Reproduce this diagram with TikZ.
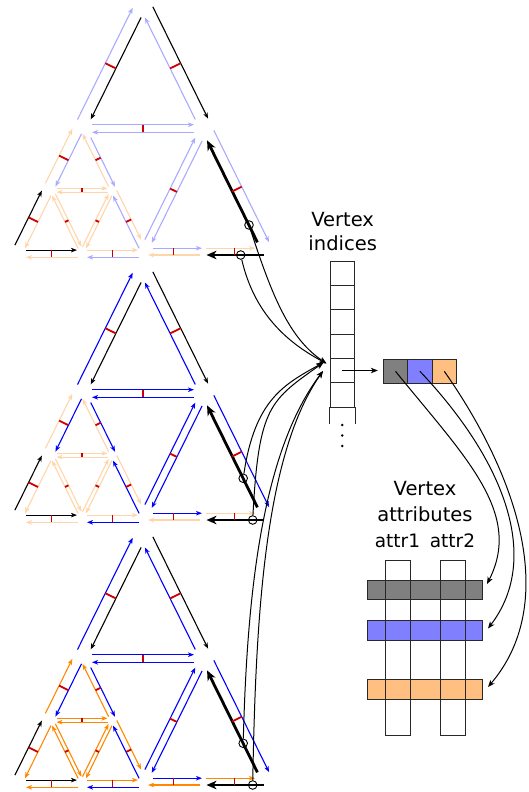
\documentclass[tikz,border=0pt]{standalone}
\usepackage{fontspec}
\setmainfont{DejaVu Sans}
\usetikzlibrary{calc,arrows.meta}
\definecolor{lblue}{RGB}{170,170,255}
\definecolor{dblue}{RGB}{0,0,255}
\definecolor{peach}{RGB}{255,213,170}
\definecolor{orng}{RGB}{255,136,0}
\definecolor{tickred}{RGB}{204,0,0}
\definecolor{tgray}{RGB}{128,128,128}
\definecolor{tblue}{RGB}{128,128,255}
\definecolor{tpeach}{RGB}{255,191,128}
\definecolor{edgegray}{RGB}{40,40,40}
\tikzset{
  he/.style={line width=1.1pt, -{Stealth[length=6pt,width=4.5pt,inset=1.6pt]}},
  hk/.style={he, color=black},
  ht/.style={line width=2.8pt, color=black, -{Stealth[length=10pt,width=8.5pt,inset=3pt]}},
  tickmark/.style={line width=1.8pt, color=tickred},
  ring/.style={circle, draw=black, line width=0.9pt, minimum size=8.6pt, inner sep=0pt},
  link/.style={line width=1pt, color=black, -{Stealth[length=7pt,width=5.5pt,inset=2pt]}},
  cellbox/.style={draw=edgegray, line width=0.9pt, minimum width=24.5pt, minimum height=24.33pt, inner sep=0pt},
  titlefont/.style={font=\fontsize{19.5}{23}\selectfont},
  attrfont/.style={font=\fontsize{18.5}{22}\selectfont},
}
\newcommand\hedge[6]{\draw[#6,shorten <=#4,shorten >=#5] ($(#1)!#3!90:(#2)$) -- ($(#2)!#3!-90:(#1)$);}
\newcommand\etick[4]{\coordinate (tkm) at ($(#1)!0.5!(#2)$); \draw[tickmark] ($(tkm)!#3!90:(#2)$) -- ($(tkm)!#4!-90:(#2)$);}
\newcommand\mkpanel[4]{%
\begin{scope}[yshift=-#2pt]
  \coordinate (#1A) at (143,-5);
  \coordinate (#1L) at (82,-128.5);
  \coordinate (#1R) at (204,-128.5);
  \coordinate (#1U) at (51.5,-190.25);
  \coordinate (#1V) at (112.5,-190.25);
  \coordinate (#1P) at (21,-252);
  \coordinate (#1Q) at (82,-252);
  \coordinate (#1M) at (143,-252);
  \coordinate (#1S) at (204,-252);
  \coordinate (#1B) at (265,-252);
\end{scope}
\tikzset{hx/.style={he,color=#3},hy/.style={he,color=#4}}%
\hedge{#1A}{#1L}{3.8pt}{12pt}{12pt}{hk}
\hedge{#1L}{#1R}{3.8pt}{10pt}{10pt}{hx}
\hedge{#1R}{#1A}{3.8pt}{12pt}{12pt}{hx}
\hedge{#1L}{#1V}{3.8pt}{12pt}{2pt}{hx}
\hedge{#1V}{#1M}{3.8pt}{2pt}{12pt}{hy}
\hedge{#1M}{#1R}{3.8pt}{12pt}{12pt}{hx}
\hedge{#1R}{#1L}{3.8pt}{10pt}{10pt}{hx}
\hedge{#1R}{#1M}{3.8pt}{12pt}{12pt}{hx}
\hedge{#1M}{#1S}{3.8pt}{10pt}{2pt}{hx}
\hedge{#1S}{#1B}{3.8pt}{2pt}{10pt}{hy}
\hedge{#1B}{#1R}{2.5pt}{12pt}{12pt}{ht}
\hedge{#1L}{#1U}{1.9pt}{5pt}{5pt}{hx}
\hedge{#1U}{#1V}{1.9pt}{5pt}{5pt}{hy}
\hedge{#1V}{#1L}{1.9pt}{5pt}{5pt}{hy}
\hedge{#1U}{#1P}{1.9pt}{5pt}{5pt}{hy}
\hedge{#1P}{#1Q}{1.9pt}{5pt}{5pt}{hk}
\hedge{#1Q}{#1U}{1.9pt}{5pt}{5pt}{hy}
\hedge{#1U}{#1Q}{1.9pt}{5pt}{5pt}{hy}
\hedge{#1Q}{#1V}{1.9pt}{5pt}{5pt}{hy}
\hedge{#1V}{#1U}{1.9pt}{5pt}{5pt}{hy}
\hedge{#1V}{#1Q}{1.9pt}{5pt}{5pt}{hy}
\hedge{#1Q}{#1M}{1.9pt}{5pt}{5pt}{hy}
\hedge{#1M}{#1V}{1.9pt}{5pt}{5pt}{hx}
\hedge{#1L}{#1A}{8pt}{6pt}{7pt}{hx}
\hedge{#1A}{#1R}{8pt}{6pt}{7pt}{hk}
\hedge{#1R}{#1B}{8pt}{6pt}{7pt}{hx}
\hedge{#1B}{#1S}{3pt}{1.5pt}{2.5pt}{ht}
\hedge{#1S}{#1M}{3pt}{4pt}{5pt}{hy}
\hedge{#1M}{#1Q}{5.3pt}{4pt}{5pt}{hx}
\hedge{#1Q}{#1P}{5.3pt}{4pt}{5pt}{hy}
\hedge{#1P}{#1U}{8.5pt}{3.5pt}{4.5pt}{hk}
\hedge{#1U}{#1L}{8.5pt}{3.5pt}{4.5pt}{hy}
\etick{#1A}{#1L}{3.8pt}{8pt}
\etick{#1A}{#1R}{8pt}{3.8pt}
\etick{#1L}{#1R}{3.8pt}{3.8pt}
\etick{#1L}{#1U}{1.9pt}{8.5pt}
\etick{#1U}{#1P}{1.9pt}{8.5pt}
\etick{#1L}{#1V}{3.8pt}{1.9pt}
\etick{#1V}{#1M}{3.8pt}{1.9pt}
\etick{#1U}{#1V}{1.9pt}{1.9pt}
\etick{#1U}{#1Q}{1.9pt}{1.9pt}
\etick{#1V}{#1Q}{1.9pt}{1.9pt}
\etick{#1P}{#1Q}{1.9pt}{5.3pt}
\etick{#1Q}{#1M}{1.9pt}{5.3pt}
\etick{#1M}{#1R}{3.8pt}{3.8pt}
\etick{#1R}{#1B}{8pt}{2.5pt}
\etick{#1M}{#1S}{3.8pt}{3pt}
\etick{#1S}{#1B}{3.8pt}{3pt}
}
\begin{document}
\begin{tikzpicture}[x=1pt,y=1pt]
\useasboundingbox (0,0) rectangle (528,-792);
\mkpanel{a}{0}{lblue}{peach}
\mkpanel{b}{265}{dblue}{peach}
\mkpanel{c}{530}{dblue}{orng}
% circles on the thick half-edges
\node[ring] (aca) at (249,-225) {};
\node[ring] (acb) at (240.7,-255) {};
\node[ring] (bca) at (243.2,-478.3) {};
\node[ring] (bcb) at (252.7,-520) {};
\node[ring] (cca) at (243.2,-743.3) {};
\node[ring] (ccb) at (252.7,-785) {};
% vertex indices array
\foreach \i in {0,...,5} \node[cellbox] (ix\i) at (342.25,{-273.17-24.33*\i}) {};
\draw[draw=edgegray, line width=0.9pt] (ix5.south west) -- ++(0,-17);
\draw[draw=edgegray, line width=0.9pt] (ix5.south east) -- ++(0,-17);
\fill[black] (342.25,-425) circle (1.3);
\fill[black] (342.25,-435.5) circle (1.3);
\fill[black] (342.25,-446) circle (1.3);
\node[titlefont, anchor=base] (lv1) at (342.7,-226) {Vertex};
\node[titlefont, anchor=base] (lv2) at (342.7,-250.7) {indices};
% tuple
\node[cellbox, fill=tgray, minimum width=24.4pt, minimum height=24pt] (tupA) at (395.5,-371.3) {};
\node[cellbox, fill=tblue, minimum width=24.4pt, minimum height=24pt] (tupB) at (419.9,-371.3) {};
\node[cellbox, fill=tpeach, minimum width=24.4pt, minimum height=24pt] (tupC) at (444.3,-371.3) {};
\draw[link, shorten >=5pt] (ix4.center) -- (ix4.center -| tupA.west);
% attributes
\node[titlefont, anchor=base] (la1) at (425,-495) {Vertex};
\node[titlefont, anchor=base] (la2) at (425,-521.7) {attributes};
\node[attrfont, anchor=base] (lc1) at (397.5,-547.3) {attr1};
\node[attrfont, anchor=base] (lc2) at (452.5,-547.3) {attr2};
\fill[white] (385,-560) rectangle (410,-735);
\fill[white] (440,-560) rectangle (465,-735);
\node[draw=edgegray, fill=tgray, line width=0.9pt, minimum width=115.4pt, minimum height=19.3pt, inner sep=0pt] (barA) at (425,-589.65) {};
\node[draw=edgegray, fill=tblue, line width=0.9pt, minimum width=115.4pt, minimum height=20pt, inner sep=0pt] (barB) at (425,-630) {};
\node[draw=edgegray, fill=tpeach, line width=0.9pt, minimum width=115.4pt, minimum height=20pt, inner sep=0pt] (barC) at (425,-689.3) {};
\draw[edgegray, line width=0.9pt] (385,-560) rectangle (410,-735);
\draw[edgegray, line width=0.9pt] (440,-560) rectangle (465,-735);
% links
\coordinate (ta) at (326.5,-363.5);
\coordinate (tb) at (323.5,-362.5);
\coordinate (tc) at (323,-371);
\draw[link] (aca) to[out=-72,in=146,out distance=70pt,in distance=45pt] (ta);
\draw[link] (acb) to[out=-77,in=152,out distance=55pt,in distance=45pt] (ta);
\draw[link] (bca) to[out=81.5,in=-151,out distance=75pt,in distance=45pt] (tb);
\draw[link] (bcb) to[out=87,in=-144.5,out distance=110pt,in distance=65pt] (tb);
\draw[link] (cca) to[out=88.5,in=-127,out distance=150pt,in distance=100pt] (tc);
\draw[link] (ccb) to[out=89,in=-125,out distance=170pt,in distance=100pt] (tc);
\coordinate (gA) at (487,-584);
\coordinate (gB) at (488,-628.5);
\coordinate (gC) at (488,-687);
\draw[link] (tupA.center) to[out=-51,in=63,out distance=110pt,in distance=80pt] (gA);
\draw[link] (tupB.center) to[out=-46.5,in=52.6,out distance=120pt,in distance=90pt] (gB);
\draw[link] (tupC.center) to[out=-55,in=49.6,out distance=130pt,in distance=110pt] (gC);
\end{tikzpicture}
\end{document}
